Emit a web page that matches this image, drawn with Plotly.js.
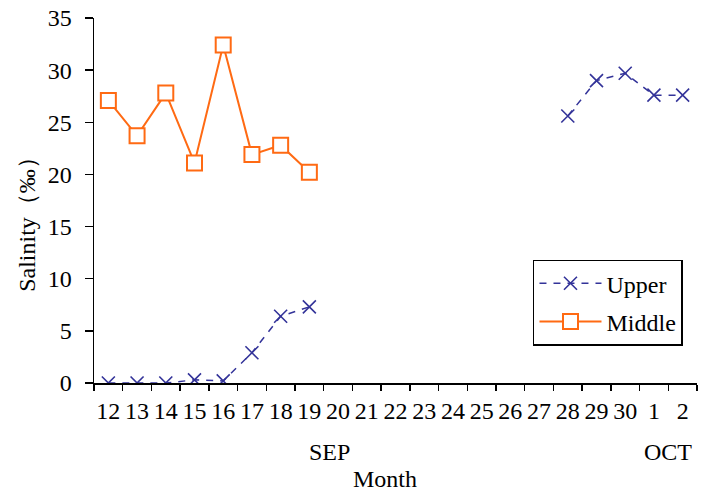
<!DOCTYPE html>
<html>
<head>
<meta charset="utf-8">
<script src="https://cdn.plot.ly/plotly-3.0.1.min.js"></script>
<style>html,body{margin:0;padding:0;background:#fff;}#chart{width:701px;height:492px;}</style>
</head>
<body>
<div id="chart"></div>
<script>
var days = ["12","13","14","15","16","17","18","19","20","21","22","23","24","25","26","27","28","29","30","1","2"];
var upper = [0, 0, 0, 0.3, 0.2, 2.9, 6.4, 7.3, null, null, null, null, null, null, null, null, 25.6, 29.0, 29.7, 27.6, 27.6];
var middle = [27.1, 23.7, 27.8, 21.1, 32.4, 21.9, 22.8, 20.2, null, null, null, null, null, null, null, null, null, null, null, null, null];
var yTicks = [0, 5, 10, 15, 20, 25, 30, 35];

var serif = "'Times New Roman', 'Liberation Serif', serif";
var traces = [
  {x: days, y: upper, name: "Upper", type: "scatter", mode: "lines+markers", legendgroup: "a",
   connectgaps: false,
   line: {color: "#333399", width: 1.5, dash: "7px,7px"},
   marker: {symbol: "x-thin", size: 13, line: {color: "#333399", width: 1.6}, color: "#333399"}},
  {x: days, y: middle, name: "Middle", type: "scatter", mode: "lines+markers", legendgroup: "b",
   connectgaps: false,
   line: {color: "#FF6A13", width: 2},
   marker: {symbol: "square", size: 15, color: "#fff", line: {color: "#FF6A13", width: 2}}}
];
var layout = {
  width: 701, height: 492,
  margin: {l: 94, r: 4, t: 18, b: 109},
  paper_bgcolor: "#fff", plot_bgcolor: "#fff",
  font: {family: serif, size: 24, color: "#000"},
  showlegend: true,
  legend: {x: 0.728, y: 0.338, xanchor: "left", yanchor: "top", bgcolor: "#fff",
           bordercolor: "#000", borderwidth: 1.5, font: {family: serif, size: 24, color: "#000"},
           itemwidth: 62, tracegroupgap: 4, traceorder: "grouped"},
  xaxis: {type: "category", categoryorder: "array", categoryarray: days, range: [-0.5, 20.5],
          tickmode: "array", tickvals: days, ticktext: days,
          tickson: "boundaries", ticks: "outside", ticklen: 6, tickwidth: 1.5, tickcolor: "#000",
          showline: true, linecolor: "#000", linewidth: 1.5, showgrid: false, zeroline: false,
          ticklabelstandoff: 6,
          tickfont: {family: serif, size: 24, color: "#000"}, tickangle: 0},
  yaxis: {range: [0, 35], tickvals: yTicks, ticks: "outside", ticklen: 8, tickwidth: 1.5, tickcolor: "#000",
          showline: true, linecolor: "#000", linewidth: 1.5, showgrid: false, zeroline: false,
          ticklabelstandoff: 8,
          tickfont: {family: serif, size: 24, color: "#000"}},
  annotations: [
    {text: "Salinity（‰）", xref: "paper", yref: "paper", x: -0.111, y: 0.45, textangle: -90,
     xanchor: "center", yanchor: "middle",
     showarrow: false, font: {family: serif, size: 24, color: "#000"}},
    {text: "SEP", xref: "paper", yref: "paper", x: 0.39, y: -0.189, xanchor: "center", yanchor: "middle",
     showarrow: false, font: {family: serif, size: 24, color: "#000"}},
    {text: "OCT", xref: "paper", yref: "paper", x: 0.952, y: -0.189, xanchor: "center", yanchor: "middle",
     showarrow: false, font: {family: serif, size: 24, color: "#000"}},
    {text: "Month", xref: "paper", yref: "paper", x: 0.483, y: -0.262, xanchor: "center", yanchor: "middle",
     showarrow: false, font: {family: serif, size: 24, color: "#000"}}
  ]
};
Plotly.newPlot("chart", traces, layout, {displayModeBar: false, staticPlot: true});
</script>
</body>
</html>
